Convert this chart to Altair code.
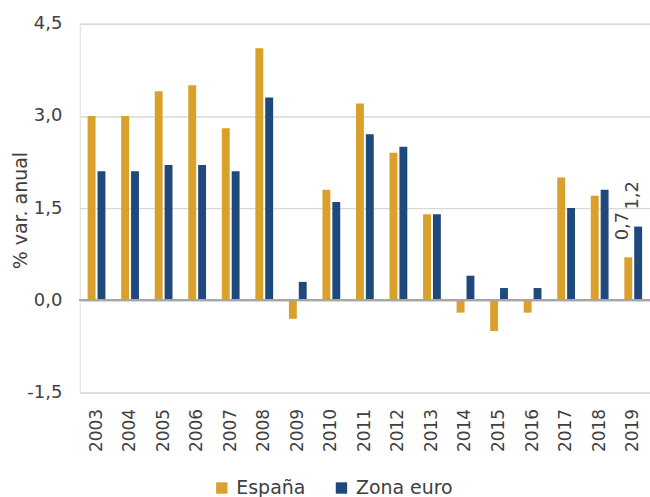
import altair as alt
import pandas as pd

years = [str(y) for y in range(2003, 2020)]
espana = [3.0, 3.0, 3.4, 3.5, 2.8, 4.1, -0.3, 1.8, 3.2, 2.4, 1.4, -0.2, -0.5, -0.2, 2.0, 1.7, 0.7]
zona_euro = [2.1, 2.1, 2.2, 2.2, 2.1, 3.3, 0.3, 1.6, 2.7, 2.5, 1.4, 0.4, 0.2, 0.2, 1.5, 1.8, 1.2]
series_names = ["España", "Zona euro"]
series_colors = ["#D9A02C", "#1F497D"]
y_ticks = [-1.5, 0.0, 1.5, 3.0, 4.5]
labelled_year = "2019"

rows = []
for i, y in enumerate(years):
    rows.append({"year": y, "serie": series_names[0], "value": espana[i]})
    rows.append({"year": y, "serie": series_names[1], "value": zona_euro[i]})
df = pd.DataFrame(rows)

FONT = "DejaVu Sans"
TXT = "#404040"
FMT = "replace(replace(format(datum.value, '.1f'), '.', ','), '\u2212', '-')"

x_enc = alt.X("year:N", sort=years,
              scale=alt.Scale(paddingInner=0.47, paddingOuter=0.235),
              axis=alt.Axis(title=None, labelAngle=270, labelAlign="right", labelBaseline="middle",
                            labelPadding=16, ticks=False, domain=False, labelFontSize=17,
                            labelColor=TXT, labelFont=FONT, grid=False))
y_scale = alt.Scale(domain=[-1.5, 4.5], nice=False, zero=False)
xoff = alt.XOffset("serie:N", sort=series_names, scale=alt.Scale(paddingInner=0.2, paddingOuter=0))
color = alt.Color("serie:N", sort=series_names,
                  scale=alt.Scale(domain=series_names, range=series_colors),
                  legend=alt.Legend(title=None, orient="none", legendX=133, legendY=456,
                                    direction="horizontal", symbolType="square", symbolSize=130,
                                    symbolStrokeWidth=0, labelFontSize=19, labelColor=TXT,
                                    labelFont=FONT, labelOffset=5, columnPadding=26))

bars = alt.Chart(df).mark_bar().encode(
    x=x_enc,
    xOffset=xoff,
    y=alt.Y("value:Q", scale=y_scale,
            axis=alt.Axis(title="% var. anual", values=y_ticks, ticks=False, domain=False,
                          labelExpr=FMT,
                          labelFontSize=18, labelColor=TXT, labelFont=FONT, labelPadding=18,
                          titleFontSize=19, titleColor=TXT, titleFont=FONT, titleFontWeight="normal",
                          titleX=-59, titleY=187, titleAngle=270, titleAlign="center",
                          titleBaseline="middle",
                          gridColor="#d9d9d9", gridWidth=1.5)),
    color=color,
)

zero = alt.Chart(df).mark_rule(color="#a6a6a6", strokeWidth=1.5).encode(y=alt.datum(0))

labels = alt.Chart(df).transform_filter(alt.datum.year == labelled_year).transform_calculate(
    label=FMT
).mark_text(
    angle=270, align="left", baseline="middle", dx=17, dy=-5, fontSize=18, color=TXT, font=FONT
).encode(
    x=alt.X("year:N", sort=years),
    xOffset=xoff,
    y=alt.Y("value:Q", scale=y_scale),
    text=alt.Text("label:N"),
)

chart = alt.layer(bars, zero, labels).properties(
    width=572, height=370,
    autosize=alt.AutoSizeParams(type="none"),
    padding={"left": 80, "top": 23, "right": 0, "bottom": 104},
).configure_view(stroke=None).configure(background="white")

chart.save("out.html", embed_options={"renderer": "svg", "actions": False})
